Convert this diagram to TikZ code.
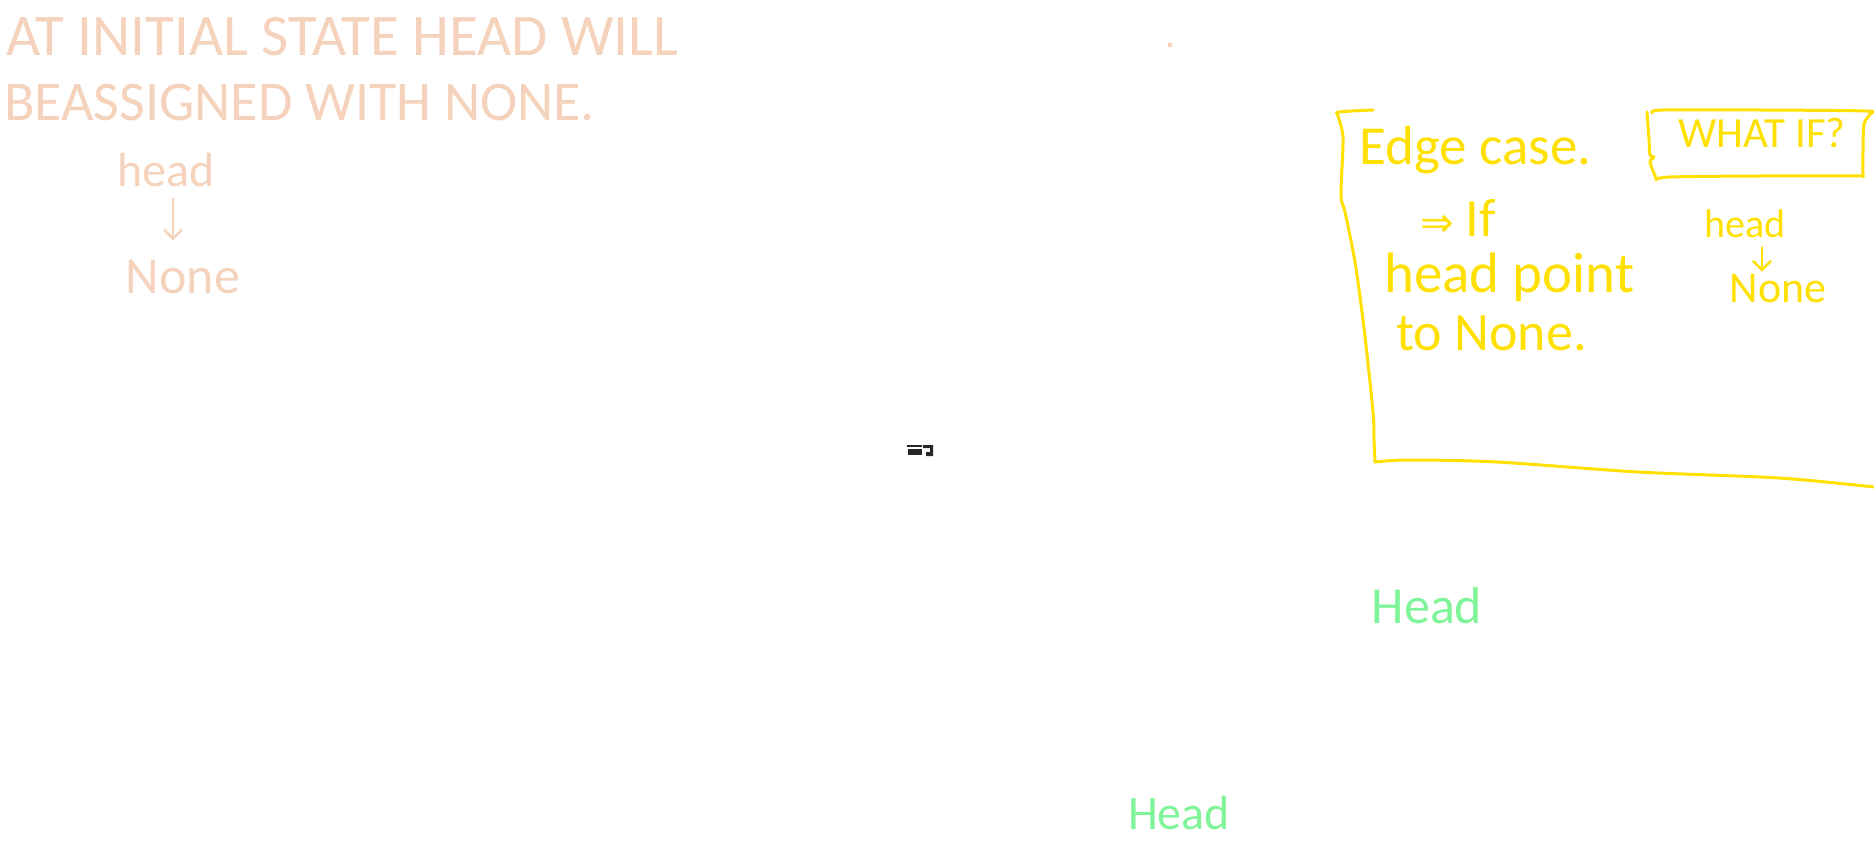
\documentclass[tikz,border=0pt]{standalone}
\usepackage{fontspec}
\setmainfont{Carlito}
\newfontfamily\symbfont{DejaVu Sans}
\usetikzlibrary{arrows.meta}
\definecolor{peach}{RGB}{245,210,188}
\definecolor{marker}{RGB}{255,224,0}
\definecolor{mint}{RGB}{128,244,152}

\begin{document}
\begin{tikzpicture}[x=1pt,y=-1pt,
  note/.style={inner sep=0pt, anchor=base west},
  word/.style={inner sep=0pt, anchor=base},
  pen/.style={line width=3pt, line cap=round, line join=round},
  barb/.style={pen, -{Straight Barb[length=9pt,width=18pt]}}]
\useasboundingbox (0,0) rectangle (1874,842);

% top left, peach
\node[note, text=peach, font=\fontsize{59}{70}\selectfont] (t1) at (6,56) {AT INITIAL STATE HEAD WILL};
\node[note, text=peach, font=\fontsize{56}{66}\selectfont] (t2) at (4,121) {BEASSIGNED WITH NONE.};
\node[word, text=peach, font=\fontsize{48}{56}\selectfont] (lhead) at (166,187) {head};
\node[word, text=peach, font=\fontsize{52}{60}\selectfont] (lnone) at (183,294) {None};
\path[draw, barb, peach, line width=2.5pt, shorten <=11pt, shorten >=20pt] ([xshift=7pt]lhead.south) -- ([xshift=-10pt]lnone.north);
\fill[peach] (1170,45) circle (2.5);

% black mark
\fill[black!85] (907,445) rectangle (922,447);
\fill[black!85] (908,449) rectangle (922,455);
\fill[black!85] (923,445) -- (933,445) -- (933,456) -- (926,456) -- (926,452) -- (930,452) -- (930,448) -- (923,448) -- cycle;

% yellow edge case
\draw[pen, marker] plot[smooth, tension=0.5] coordinates {(1373,110) (1339,112) (1338,116) (1343,138) (1341,195) (1345,212) (1355,262) (1364,328) (1373,412) (1374,440) (1375,462)};
\draw[pen, marker] plot[smooth, tension=0.5] coordinates {(1375,462) (1408,460) (1497,462) (1638,472) (1779,478) (1874,487)};

\node[note, text=marker, font=\fontsize{55}{64}\selectfont] (edge) at (1359,165) {Edge case.};
\node[note, text=marker, font=\fontsize{54}{64}\selectfont] (iff) at (1420,237) {{\symbfont\fontsize{40}{48}\selectfont ⇒} If};
\node[note, text=marker, font=\fontsize{57}{66}\selectfont] (hp) at (1384,293) {head point};
\node[note, text=marker, font=\fontsize{54}{64}\selectfont] (tn) at (1396,350) {to None.};

% what if box
\node[word, text=marker, font=\fontsize{43}{52}\selectfont] (whatif) at (1762,148) {WHAT IF?};
\draw[pen, marker] plot[smooth, tension=0.5] coordinates {(1647,112) (1649,140) (1650,155) (1654,157) (1650,162) (1656,178)};
\draw[pen, marker] plot[smooth, tension=0.5] coordinates {(1652,113) (1663,110) (1760,110) (1866,111) (1870,114) (1864,124) (1863,150) (1863,177)};
\draw[pen, marker] plot[smooth, tension=0.5] coordinates {(1656,180) (1670,177) (1760,176) (1863,176)};

\node[word, text=marker, font=\fontsize{40}{48}\selectfont] (rhead) at (1745,238) {head};
\node[word, text=marker, font=\fontsize{44}{52}\selectfont] (rnone) at (1778,302) {None};
\path[draw, barb, marker, line width=2.5pt, shorten <=9pt, shorten >=2pt] ([xshift=17pt]rhead.south) -- ([xshift=-16pt]rnone.north);

% green
\node[word, text=mint, font=\fontsize{52}{60}\selectfont] (head1) at (1427,623) {Head};
\node[word, text=mint, font=\fontsize{48}{56}\selectfont] (head2) at (1179,829) {Head};
\end{tikzpicture}
\end{document}
